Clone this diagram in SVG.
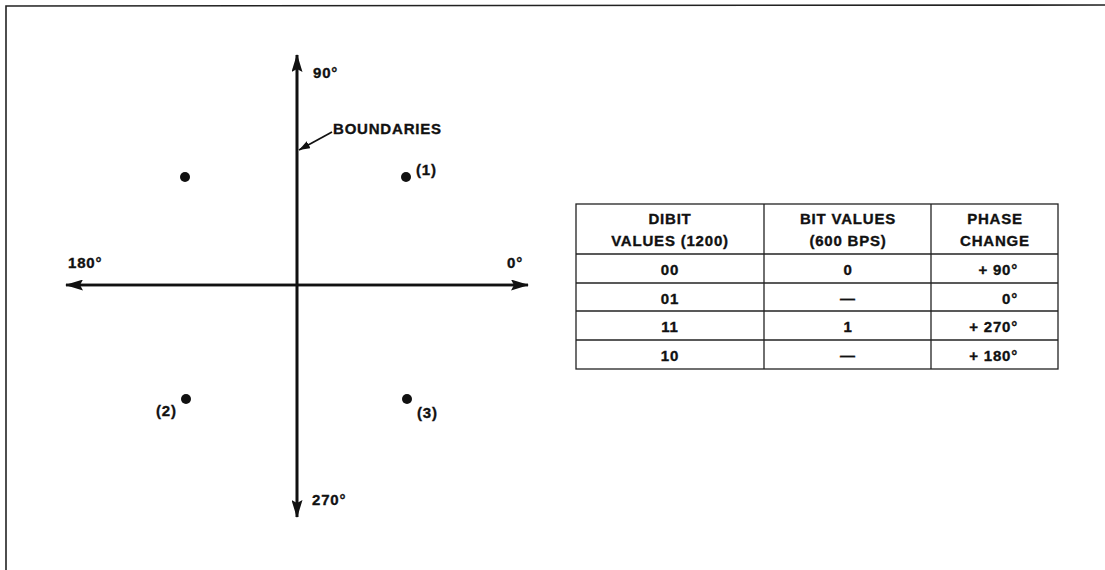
<svg xmlns="http://www.w3.org/2000/svg" width="1105" height="570" viewBox="0 0 1105 570">
<style>
text{font-family:"Liberation Sans",Arial,Helvetica,sans-serif;font-weight:bold;font-size:15px;letter-spacing:0.8px;fill:#111;stroke:#111;stroke-width:0.35px}
.c{text-anchor:middle}
.e{text-anchor:end}
.ax{stroke:#111;stroke-width:2.6;fill:none}
.tb{stroke:#222;stroke-width:1.3;fill:none}
.dot{fill:#111}
</style>
<defs>
<marker id="ah" viewBox="0 0 18 11" refX="17" refY="5.5" markerWidth="18" markerHeight="11" markerUnits="userSpaceOnUse" orient="auto">
<path d="M0,0 L18,5.5 L0,11 L3,5.5 Z" fill="#111"/>
</marker>
<marker id="sh" viewBox="0 0 11 8" refX="11" refY="4" markerWidth="11" markerHeight="8" markerUnits="userSpaceOnUse" orient="auto">
<path d="M0,0 L11,4 L0,8 Z" fill="#111"/>
</marker>
</defs>
<rect width="1105" height="570" fill="#fff"/>
<g id="frame">
<path d="M6,570 L6,6 L1105,5" stroke="#222" stroke-width="1.6" fill="none"/>
</g>
<g id="connectors">
<line class="ax" x1="297" y1="517" x2="297" y2="55" marker-end="url(#ah)"/>
<line class="ax" x1="297" y1="55" x2="297" y2="517" marker-end="url(#ah)"/>
<line class="ax" x1="66" y1="285" x2="528" y2="285" marker-end="url(#ah)"/>
<line class="ax" x1="528" y1="285" x2="66" y2="285" marker-end="url(#ah)"/>
<line x1="332" y1="132" x2="299" y2="150" stroke="#111" stroke-width="1.7" marker-end="url(#sh)"/>
</g>
<g id="axis-labels">
<text x="313" y="78">90°</text>
<text x="312" y="505">270°</text>
<text x="68" y="268">180°</text>
<text x="507" y="268">0°</text>
<text x="333" y="134">BOUNDARIES</text>
</g>
<g id="point1"><circle class="dot" cx="406" cy="177" r="5"/><text x="416" y="175">(1)</text></g>
<g id="point0"><circle class="dot" cx="185" cy="177" r="5"/></g>
<g id="point2"><circle class="dot" cx="186" cy="399" r="5"/><text x="156" y="416">(2)</text></g>
<g id="point3"><circle class="dot" cx="407" cy="399" r="5"/><text x="417" y="418">(3)</text></g>
<g id="table">
<rect class="tb" x="576" y="204" width="482" height="165"/>
<line class="tb" x1="764" y1="204" x2="764" y2="369"/>
<line class="tb" x1="931" y1="204" x2="931" y2="369"/>
<line class="tb" x1="576" y1="254" x2="1058" y2="254"/>
<line class="tb" x1="576" y1="283" x2="1058" y2="283"/>
<line class="tb" x1="576" y1="311" x2="1058" y2="311"/>
<line class="tb" x1="576" y1="340" x2="1058" y2="340"/>
<text class="c" x="670" y="224">DIBIT</text>
<text class="c" x="670" y="246">VALUES (1200)</text>
<text class="c" x="848" y="224">BIT VALUES</text>
<text class="c" x="848" y="246">(600 BPS)</text>
<text class="c" x="995" y="224">PHASE</text>
<text class="c" x="995" y="246">CHANGE</text>
<text class="c" x="670" y="275">00</text>
<text class="c" x="670" y="304">01</text>
<text class="c" x="670" y="332">11</text>
<text class="c" x="670" y="361">10</text>
<text class="c" x="848" y="275">0</text>
<text class="c" x="848" y="304">—</text>
<text class="c" x="848" y="332">1</text>
<text class="c" x="848" y="361">—</text>
<text class="e" x="1018" y="275">+ 90°</text>
<text class="e" x="1018" y="304">0°</text>
<text class="e" x="1018" y="332">+ 270°</text>
<text class="e" x="1018" y="361">+ 180°</text>
</g>
</svg>
